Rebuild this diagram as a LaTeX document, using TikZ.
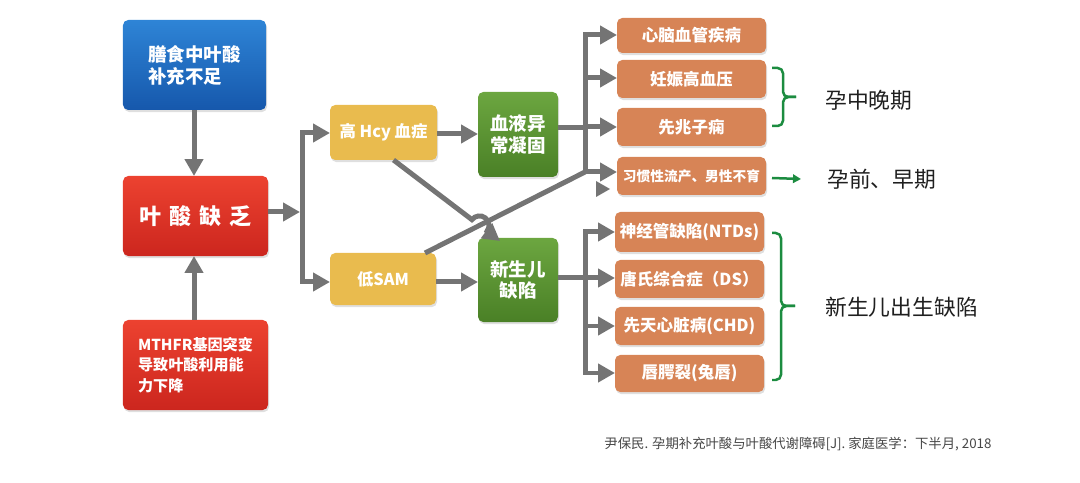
\documentclass[tikz,border=0pt]{standalone}
\usepackage{fontspec}
\setmainfont{Noto Sans CJK SC}
\usetikzlibrary{arrows.meta,calc,shadows,intersections}
\definecolor{arrgray}{RGB}{116,116,116}
\definecolor{blueT}{RGB}{46,132,214}
\definecolor{blueB}{RGB}{22,88,172}
\definecolor{redT}{RGB}{236,66,48}
\definecolor{redB}{RGB}{204,38,30}
\definecolor{yel}{RGB}{233,187,78}
\definecolor{grnT}{RGB}{108,166,64}
\definecolor{grnB}{RGB}{74,128,38}
\definecolor{ora}{RGB}{215,132,86}
\definecolor{gre}{RGB}{28,140,64}
\definecolor{cite}{RGB}{70,70,70}
% box: name, style, x1, y1, x2, y2, text
\newcommand{\bx}[7]{%
  \pgfmathsetmacro\bxcx{(#3+#5)/2}\pgfmathsetmacro\bxcy{(#4+#6)/2}%
  \pgfmathsetmacro\bxw{(#5-#3)*0.02}\pgfmathsetmacro\bxh{(#6-#4)*0.02}%
  \node[#2, minimum width=\bxw cm, minimum height=\bxh cm] (#1) at (\bxcx,\bxcy) {#7};}
\begin{document}
\begin{tikzpicture}[x=0.02cm,y=-0.02cm,
  box/.style={rounded corners=3pt, inner sep=0pt, outer sep=0pt, text=white,
    drop shadow={opacity=0.25, shadow xshift=0.6pt, shadow yshift=-1.2pt}},
  bluebox/.style={box, top color=blueT, bottom color=blueB, align=left,
    font=\fontsize{10.5pt}{12.6pt}\selectfont\bfseries},
  redbox/.style={box, top color=redT, bottom color=redB},
  yelbox/.style={box, fill=yel, font=\fontsize{9.3pt}{11pt}\selectfont\bfseries},
  grnbox/.style={box, top color=grnT, bottom color=grnB, align=center,
    font=\fontsize{10.5pt}{12.3pt}\selectfont\bfseries},
  orabox/.style={box, fill=ora, font=\fontsize{9.4pt}{11pt}\selectfont\bfseries},
  ln/.style={draw=arrgray, line width=0.1cm},
  bus/.style={ln, line cap=rect},
  arr/.style={ln, -{Triangle[length=0.34cm,width=0.36cm]}},
  garr/.style={draw=gre, line width=0.05cm, -{Triangle[length=0.16cm,width=0.17cm]}},
  brk/.style={draw=gre, line width=0.05cm, rounded corners=3pt},
  lab/.style={anchor=west, inner sep=0pt, text=black!88, font=\fontsize{12.4pt}{14pt}\selectfont},
]
\useasboundingbox (0,0) rectangle (1080,483);

% left column
\bx{diet}{bluebox}{123}{20}{266}{110}{膳食中叶酸\\补充不足}
\bx{def}{redbox, font=\fontsize{12.5pt}{14pt}\selectfont\bfseries}{123}{176}{268}{256}
  {叶\kern4.5pt 酸\kern4.5pt 缺\kern4.5pt 乏}
\bx{mth}{redbox, align=left, font=\fontsize{8.6pt}{11.8pt}\selectfont\bfseries}{123}{320}{268}{410}
  {MTHFR基因突变\\导致叶酸利用能\\力下降}

% middle
\bx{hcy}{yelbox}{330}{105}{437}{160}{高 Hcy 血症}
\bx{sam}{yelbox}{330}{253}{436}{305}{低SAM}
\bx{coag}{grnbox}{478}{92}{558}{177}{血液异\\常凝固}
\bx{birth}{grnbox}{478}{238}{558}{322}{新生儿\\缺陷}

% right boxes
\bx{o1}{orabox}{617}{18}{766}{53}{心脑血管疾病}
\bx{o2}{orabox}{617}{60}{766}{98}{妊娠高血压}
\bx{o3}{orabox}{617}{108}{766}{146}{先兆子痫}
\bx{o4}{orabox, font=\fontsize{7.8pt}{9pt}\selectfont\bfseries}{617}{157}{766}{195}{习惯性流产、男性不育}
\bx{o5}{orabox}{615}{212}{764}{252}{神经管缺陷(NTDs)}
\bx{o6}{orabox}{615}{260}{764}{298}{唐氏综合症（DS）}
\bx{o7}{orabox}{615}{307}{764}{345}{先天心脏病(CHD)}
\bx{o8}{orabox}{615}{355}{764}{392}{唇腭裂(兔唇)}

% labels
\node[lab] (l1) at (825,100) {孕中晚期};
\node[lab] (l2) at (827,179) {孕前、早期};
\node[lab] (l3) at (825,307) {新生儿出生缺陷};
\node[anchor=center, inner sep=0pt, text=cite, font=\fontsize{7.6pt}{9pt}\selectfont] (ref) at (798,444)
  {尹保民. 孕期补充叶酸与叶酸代谢障碍[J]. 家庭医学：下半月, 2018};

% left arrows
\draw[arr] (diet.south -| 194,0) -- (def.north -| 194,0);
\draw[arr] (mth.north -| 194,0) -- (def.south -| 194,0);
\coordinate (j) at (302,212);
\draw[arr] (def.east |- j) -- ($(j)+(-2,0)$);
\draw[bus] (j |- 0,133) -- (j |- 0,282);
\draw[arr] (j |- 0,133) -- (hcy.west |- 0,133);
\draw[arr] (j |- 0,282) -- (sam.west |- 0,282);

% middle arrows
\draw[arr] (hcy.east |- 0,134) -- (coag.west |- 0,134);
\draw[arr] (sam.east |- 0,282) -- (birth.west |- 0,282);

% top bus
\coordinate (tb) at (585,128);
\coordinate (b4) at (585,172);
\draw[ln] (coag.east |- tb) -- (tb);
\draw[bus] (585,35) -- (b4);
\draw[arr] (585,35) -- (o1.west |- 0,35);
\draw[arr] (585,78) -- (o2.west |- 0,78);
\draw[arr] (585,127) -- (o3.west |- 0,127);
\draw[arr] (b4) -- (o4.west |- b4);
\fill[arrgray] (596,181) -- (610,189) -- (596,197) -- cycle;

% crossing diagonals
\coordinate (a1) at ($(hcy.south)+(10,0)$);
\coordinate (a2) at ($(birth.north west)+(22,3)$);
\coordinate (b1) at ($(sam.north east)+(-11,0)$);
\path[name path=pa] (a1) -- (a2);
\path[name path=pb] (b1) -- (b4);
\path[name intersections={of=pa and pb, by=X}];
\draw[ln] (b1) -- (b4);
\draw[arr] (a1) -- ($(X)!0.19cm!(a1)$) arc[start angle=142.7, end angle=-37.3, radius=0.19cm] -- (a2);

% bottom bus
\coordinate (bb) at (585,278);
\draw[ln] (birth.east |- bb) -- (bb);
\draw[bus] (585,232) -- (585,373);
\draw[arr] (585,232) -- (o5.west |- 0,232);
\draw[arr] (585,278) -- (o6.west |- 0,278);
\draw[arr] (585,326) -- (o7.west |- 0,326);
\draw[arr] (585,373) -- (o8.west |- 0,373);

% green brackets and arrow
\draw[brk] (772,68) -| (783,97) -- (796,97);
\draw[brk] (796,97) -- (783,97) |- (772,126);
\draw[brk] (772,233) -| (781,306) -- (795,306);
\draw[brk] (795,306) -- (781,306) |- (772,380);
\draw[garr] ($(o4.east)+(6,2)$) -- ($(l2.west)+(-26,0)$);
\end{tikzpicture}
\end{document}
